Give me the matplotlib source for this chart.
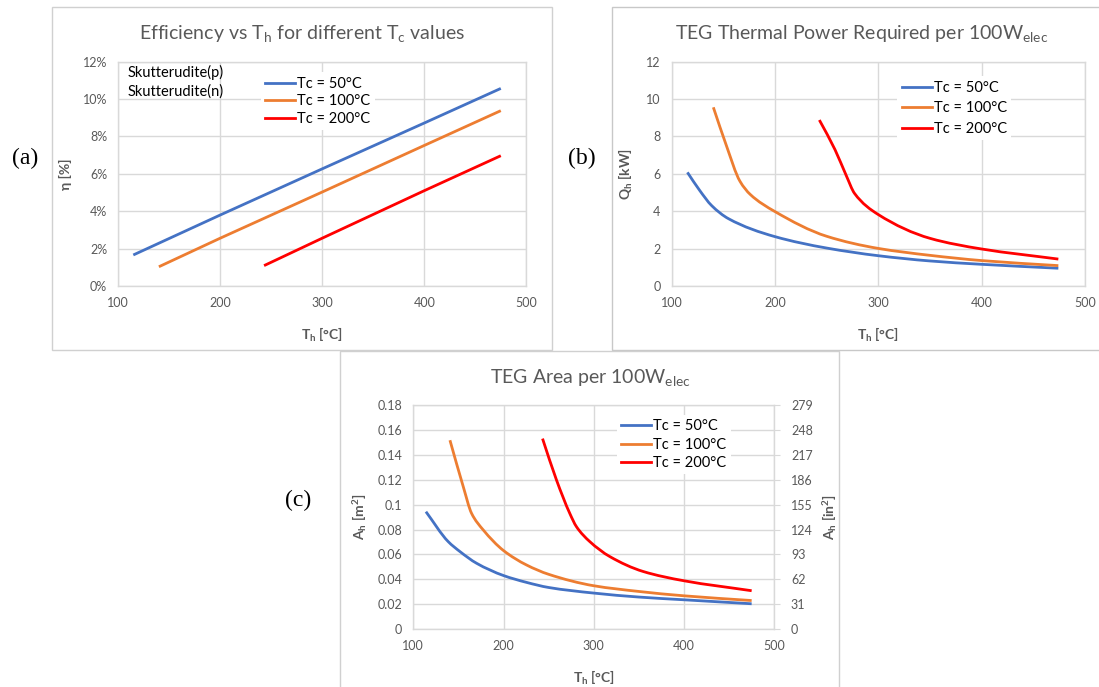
import matplotlib
matplotlib.use('Agg')
import matplotlib.pyplot as plt
from matplotlib.patches import Rectangle, PathPatch
from matplotlib.path import Path
from matplotlib.lines import Line2D
from matplotlib.ticker import PercentFormatter

plt.rcParams['font.family'] = ['Lato', 'DejaVu Sans']
plt.rcParams['mathtext.default'] = 'regular'

# ---- data ----
tc_labels = ['Tc = 50°C', 'Tc = 100°C', 'Tc = 200°C']
colors = ['#4472C4', '#ED7D31', '#FF0000']

# (a) efficiency [%]
eff_th_50 = [114.7, 200, 300, 400, 475]
eff_50 = [1.66, 3.80, 6.27, 8.72, 10.57]
eff_th_100 = [139.8, 200, 300, 400, 475]
eff_100 = [1.03, 2.56, 5.03, 7.52, 9.38]
eff_th_200 = [242.9, 300, 400, 475]
eff_200 = [1.09, 2.56, 5.10, 6.97]

# (b) thermal power [kW]
q_th_50 = [115.2, 127, 138.7, 155, 200, 250, 300, 350, 400, 474.2]
q_50 = [6.08, 5.12, 4.30, 3.60, 2.64, 2.03, 1.62, 1.34, 1.16, 0.95]
q_th_100 = [140.3, 153, 166.1, 176, 200, 250, 300, 350, 400, 474.2]
q_100 = [9.56, 7.50, 5.60, 4.90, 3.98, 2.66, 2.01, 1.64, 1.36, 1.09]
q_th_200 = [242.9, 258, 269, 277, 300, 350, 400, 474.2]
q_200 = [8.88, 7.30, 5.90, 4.95, 3.82, 2.55, 1.98, 1.44]

# (c) area [m2]
a_th_50 = [114.0, 138.7, 151.7, 170.1, 200, 225.5, 250, 300, 350, 400, 474.9]
a_50 = [0.0944, 0.0703, 0.0623, 0.0529, 0.0430, 0.0375, 0.0334, 0.0289, 0.0257, 0.0235, 0.0203]
a_th_100 = [140.6, 155.4, 164.6, 177.5, 200, 225.5, 250, 300, 350, 400, 474.9]
a_100 = [0.1519, 0.1144, 0.0930, 0.0797, 0.0631, 0.0515, 0.0440, 0.0348, 0.0302, 0.0267, 0.0229]
a_th_200 = [243.2, 258.7, 273.4, 280.8, 295.6, 317.7, 354.6, 400, 474.9]
a_200 = [0.1532, 0.1198, 0.0930, 0.0823, 0.0703, 0.0583, 0.0463, 0.0388, 0.0308]

in2_ticks = [0, 31, 62, 93, 124, 155, 186, 217, 248, 279]

W, H = 1099, 687
GRID = '#D9D9D9'
TXT = '#595959'

fig = plt.figure(figsize=(W / 100, H / 100), dpi=100)


def px_axes(x0, y0, x1, y1):
    return fig.add_axes([x0 / W, 1 - y1 / H, (x1 - x0) / W, (y1 - y0) / H])


def frame(x0, y0, x1, y1, color='#D0D0D0'):
    fig.add_artist(Rectangle((x0 / W, 1 - y1 / H), (x1 - x0) / W, (y1 - y0) / H,
                             transform=fig.transFigure, fill=False,
                             edgecolor=color, lw=1.0))


def smooth_line(ax, xs, ys, color):
    # smoothed line (like Excel's), drawn as monotone cubic Bezier segments
    n = len(xs)
    h = [xs[i + 1] - xs[i] for i in range(n - 1)]
    d = [(ys[i + 1] - ys[i]) / h[i] for i in range(n - 1)]
    m = [d[0]] + [0.0] * (n - 2) + [d[-1]]
    for k in range(1, n - 1):
        if d[k - 1] * d[k] > 0:
            w1 = 2 * h[k] + h[k - 1]
            w2 = h[k] + 2 * h[k - 1]
            m[k] = (w1 + w2) / (w1 / d[k - 1] + w2 / d[k])
    verts = [(xs[0], ys[0])]
    codes = [Path.MOVETO]
    for i in range(n - 1):
        verts += [(xs[i] + h[i] / 3, ys[i] + m[i] * h[i] / 3),
                  (xs[i + 1] - h[i] / 3, ys[i + 1] - m[i + 1] * h[i] / 3),
                  (xs[i + 1], ys[i + 1])]
        codes += [Path.CURVE4] * 3
    ax.add_patch(PathPatch(Path(verts, codes), facecolor='none', edgecolor=color,
                           lw=2.0, capstyle='butt', joinstyle='round'))


def style(ax):
    ax.set_xlim(100, 500)
    ax.set_xticks([100, 200, 300, 400, 500])
    ax.grid(True, color=GRID, lw=1.0)
    ax.set_axisbelow(True)
    for s in ax.spines.values():
        s.set_color(GRID)
        s.set_linewidth(1.0)
    ax.tick_params(length=0, labelsize=9, labelcolor=TXT, pad=8)
    ax.set_xlabel(r'T$_h$ [°C]', fontsize=10, fontweight='bold', color=TXT, labelpad=12)


def legend(ax, x, y, spacing):
    handles = [Line2D([], [], color=c, lw=2.0) for c in colors]
    ax.legend(handles, tc_labels, loc='upper left', bbox_to_anchor=(x, y), fontsize=10.5,
              frameon=True, facecolor='white', edgecolor='none', framealpha=1,
              borderpad=0.3, handlelength=2.05, handletextpad=0.15,
              labelspacing=spacing, borderaxespad=0)


frame(52, 7, 552, 350)
frame(612, 7, 1105, 350, '#C8C8C8')
frame(340, 351, 839, 692)

# ---- (a) ----
ax1 = px_axes(118.3, 61.7, 526.3, 286)
for th, v, c in zip([eff_th_50, eff_th_100, eff_th_200], [eff_50, eff_100, eff_200], colors):
    ax1.plot(th, v, color=c, lw=2.0, solid_capstyle='butt')
style(ax1)
ax1.set_ylim(0, 12)
ax1.set_yticks(range(0, 13, 2))
ax1.yaxis.set_major_formatter(PercentFormatter(decimals=0))
ax1.set_ylabel('η [%]', fontsize=10, fontweight='bold', color=TXT, labelpad=8)
legend(ax1, 0.349, 0.953, 0.25)
for y, t in [(72, 'Skutterudite(p)'), (92, 'Skutterudite(n)')]:
    fig.text(127.5 / W, 1 - y / H, t, fontsize=10.5, va='center', ha='left', color='black')
fig.text(302 / W, 1 - 34 / H, r'Efficiency vs T$_h$ for different T$_c$ values',
         ha='center', va='center', fontsize=14, color=TXT)

# ---- (b) ----
ax2 = px_axes(671.7, 61.7, 1085, 286)
for th, v, c in zip([q_th_50, q_th_100, q_th_200], [q_50, q_100, q_200], colors):
    smooth_line(ax2, th, v, c)
style(ax2)
ax2.set_ylim(0, 12)
ax2.set_yticks(range(0, 13, 2))
ax2.set_ylabel(r'Q$_h$ [kW]', fontsize=10, fontweight='bold', color=TXT, labelpad=8)
legend(ax2, 0.546, 0.935, 0.45)
fig.text(862 / W, 1 - 33 / H, r'TEG Thermal Power Required per 100W$_{elec}$',
         ha='center', va='center', fontsize=14, color=TXT)

# ---- (c) ----
ax3 = px_axes(413.3, 405.3, 774.3, 629)
for th, v, c in zip([a_th_50, a_th_100, a_th_200], [a_50, a_100, a_200], colors):
    smooth_line(ax3, th, v, c)
style(ax3)
ax3.set_ylim(0, 0.18)
ax3.set_yticks([0, 0.02, 0.04, 0.06, 0.08, 0.1, 0.12, 0.14, 0.16, 0.18])
ax3.set_yticklabels(['0', '0.02', '0.04', '0.06', '0.08', '0.1', '0.12', '0.14', '0.16', '0.18'])
ax3.set_ylabel(r'A$_h$ [m$^2$]', fontsize=10, fontweight='bold', color=TXT, labelpad=6)
legend(ax3, 0.563, 0.957, 0.3)
ax3r = ax3.twinx()
ax3r.set_ylim(0, 279)
ax3r.set_yticks(in2_ticks)
for s in ax3r.spines.values():
    s.set_visible(False)
ax3r.tick_params(axis='y', length=4, color=GRID, labelsize=9, labelcolor=TXT, pad=8)
ax3r.set_ylabel(r'A$_h$ [in$^2$]', fontsize=10, fontweight='bold', color=TXT, labelpad=6)
fig.text(590 / W, 1 - 378 / H, r'TEG Area per 100W$_{elec}$',
         ha='center', va='center', fontsize=14, color=TXT)

# panel letters
for x, y, t in [(25, 158, '(a)'), (582, 158, '(b)'), (298, 500, '(c)')]:
    fig.text(x / W, 1 - y / H, t, ha='center', va='center', fontsize=17,
             family='Liberation Serif', color='black')

fig.savefig('out.png', dpi=100)
